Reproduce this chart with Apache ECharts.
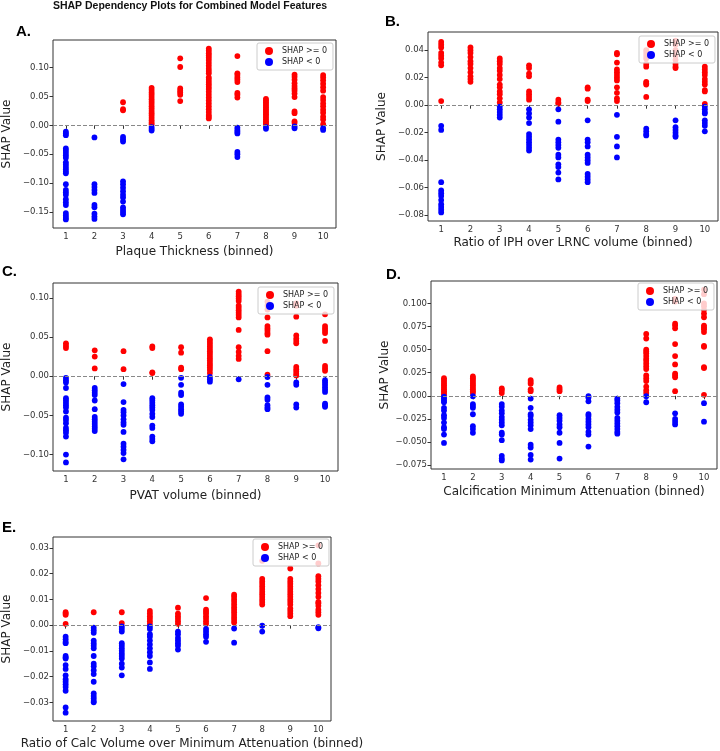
<!DOCTYPE html>
<html>
<head>
<meta charset="utf-8">
<title>SHAP Dependency Plots</title>
<script src="https://cdn.jsdelivr.net/npm/echarts@6/dist/echarts.min.js"></script>
<style>
  html, body { margin: 0; padding: 0; background: #fff; }
  #chart { width: 720px; height: 751px; }
</style>
</head>
<body>
<div id="chart"></div>
<script>
const bins = [1, 2, 3, 4, 5, 6, 7, 8, 9, 10];

// SHAP values per bin (index 0 = bin 1), split by sign
const posA = [
  [],
  [],
  [0.040, 0.028, 0.026],
  [0.065, 0.061, 0.057, 0.053, 0.049, 0.045, 0.041, 0.037, 0.033, 0.029, 0.025, 0.021, 0.017, 0.013, 0.009, 0.005, 0.002],
  [0.116, 0.101, 0.064, 0.060, 0.057, 0.053, 0.042],
  [0.133, 0.129, 0.125, 0.121, 0.117, 0.113, 0.108, 0.103, 0.098, 0.094, 0.090, 0.083, 0.079, 0.075, 0.071, 0.067, 0.063, 0.058, 0.053, 0.048, 0.043, 0.038, 0.033, 0.028, 0.023, 0.018, 0.015, 0.012],
  [0.120, 0.090, 0.087, 0.083, 0.079, 0.075, 0.056, 0.053, 0.048],
  [0.046, 0.043, 0.040, 0.037, 0.034, 0.031, 0.028, 0.025, 0.022, 0.019, 0.016, 0.013, 0.010, 0.007, 0.004, 0.002],
  [0.088, 0.084, 0.079, 0.073, 0.068, 0.064, 0.060, 0.055, 0.049, 0.024, 0.021, 0.007, 0.004],
  [0.087, 0.083, 0.078, 0.072, 0.066, 0.060, 0.049, 0.044, 0.038, 0.033, 0.027, 0.022, 0.015, 0.010, 0.002]
];
const negA = [
  [-0.011, -0.014, -0.017, -0.040, -0.044, -0.048, -0.052, -0.056, -0.064, -0.068, -0.072, -0.076, -0.080, -0.083, -0.102, -0.112, -0.116, -0.120, -0.128, -0.133, -0.138, -0.152, -0.156, -0.160, -0.163],
  [-0.021, -0.102, -0.107, -0.112, -0.117, -0.138, -0.142, -0.153, -0.158, -0.162],
  [-0.020, -0.024, -0.028, -0.097, -0.102, -0.108, -0.114, -0.120, -0.125, -0.132, -0.142, -0.146, -0.150, -0.154],
  [-0.003, -0.006, -0.009],
  [],
  [],
  [-0.004, -0.008, -0.011, -0.014, -0.046, -0.050, -0.055],
  [-0.003, -0.006],
  [-0.002, -0.005],
  [-0.005, -0.008]
];

const posB = [
  [0.046, 0.044, 0.042, 0.038, 0.036, 0.034, 0.031, 0.029, 0.003],
  [0.042, 0.040, 0.038, 0.035, 0.032, 0.030, 0.027, 0.024, 0.021, 0.019, 0.017],
  [0.034, 0.032, 0.030, 0.027, 0.025, 0.022, 0.019, 0.015, 0.013, 0.010, 0.008, 0.005, 0.002],
  [0.029, 0.027, 0.023, 0.021, 0.010, 0.008, 0.006, 0.004],
  [0.004, 0.002, 0.001],
  [0.013, 0.012, 0.004, 0.003],
  [0.038, 0.037, 0.031, 0.026, 0.024, 0.022, 0.020, 0.018, 0.013, 0.009, 0.005, 0.003],
  [0.040, 0.038, 0.036, 0.034, 0.030, 0.028, 0.017, 0.016, 0.015, 0.006],
  [0.047, 0.044, 0.040, 0.036, 0.033, 0.030, 0.028, 0.027],
  [0.028, 0.026, 0.024, 0.022, 0.019, 0.017, 0.015, 0.011, 0.010, 0.001]
];
const negB = [
  [-0.015, -0.018, -0.056, -0.062, -0.064, -0.066, -0.069, -0.072, -0.074, -0.076, -0.078],
  [],
  [-0.001, -0.003, -0.005, -0.007, -0.009],
  [-0.003, -0.006, -0.009, -0.013, -0.021, -0.023, -0.025, -0.027, -0.029, -0.031, -0.033],
  [-0.003, -0.012, -0.025, -0.027, -0.029, -0.031, -0.036, -0.038, -0.043, -0.045, -0.049, -0.054],
  [-0.011, -0.025, -0.027, -0.030, -0.036, -0.038, -0.040, -0.042, -0.050, -0.052, -0.054, -0.056],
  [-0.007, -0.023, -0.030, -0.038],
  [-0.017, -0.019, -0.021, -0.022],
  [-0.011, -0.016, -0.018, -0.020, -0.022, -0.023],
  [-0.001, -0.003, -0.005, -0.006, -0.011, -0.013, -0.015, -0.019]
];

const posC = [
  [0.042, 0.039, 0.036],
  [0.033, 0.025, 0.010],
  [0.032, 0.009],
  [0.038, 0.036, 0.005, 0.004],
  [0.037, 0.030, 0.011, 0.009],
  [0.047, 0.044, 0.041, 0.038, 0.035, 0.032, 0.029, 0.026, 0.023, 0.020, 0.017, 0.014, 0.011, 0.008, 0.004],
  [0.108, 0.105, 0.102, 0.099, 0.096, 0.090, 0.087, 0.084, 0.081, 0.078, 0.075, 0.059, 0.037, 0.031, 0.026, 0.022],
  [0.095, 0.090, 0.085, 0.075, 0.064, 0.061, 0.058, 0.055, 0.053, 0.032, 0.002],
  [0.093, 0.090, 0.076, 0.052, 0.048, 0.045, 0.042, 0.012, 0.009, 0.006, 0.003, 0.001],
  [0.079, 0.064, 0.061, 0.058, 0.055, 0.045, 0.013, 0.010, 0.007]
];
const negC = [
  [-0.002, -0.005, -0.008, -0.015, -0.028, -0.031, -0.034, -0.037, -0.040, -0.045, -0.053, -0.056, -0.060, -0.066, -0.069, -0.072, -0.077, -0.100, -0.110],
  [-0.015, -0.018, -0.021, -0.024, -0.031, -0.042, -0.052, -0.055, -0.058, -0.061, -0.064, -0.067, -0.070],
  [-0.010, -0.033, -0.043, -0.046, -0.050, -0.055, -0.059, -0.062, -0.071, -0.086, -0.090, -0.094, -0.098, -0.106],
  [-0.028, -0.031, -0.034, -0.037, -0.040, -0.043, -0.048, -0.052, -0.063, -0.066, -0.077, -0.080, -0.083],
  [-0.002, -0.011, -0.021, -0.024, -0.036, -0.039, -0.042, -0.045, -0.048],
  [-0.001, -0.004, -0.007],
  [-0.004],
  [-0.001, -0.011, -0.027, -0.030, -0.037, -0.040, -0.042],
  [-0.008, -0.011, -0.036, -0.040],
  [-0.005, -0.008, -0.011, -0.014, -0.017, -0.020, -0.035, -0.037, -0.039]
];

const posD = [
  [0.019, 0.017, 0.015, 0.013, 0.011, 0.009, 0.007, 0.005, 0.003, 0.001],
  [0.021, 0.019, 0.017, 0.015, 0.013, 0.011, 0.009, 0.007, 0.005, 0.003],
  [0.008, 0.006, 0.003],
  [0.017, 0.015, 0.013, 0.007, 0.005],
  [0.009, 0.007, 0.005],
  [],
  [],
  [0.067, 0.062, 0.050, 0.048, 0.046, 0.043, 0.040, 0.038, 0.035, 0.032, 0.029, 0.022, 0.019, 0.016, 0.010, 0.006, 0.003],
  [0.105, 0.102, 0.078, 0.076, 0.073, 0.056, 0.043, 0.034, 0.024, 0.022, 0.020, 0.005],
  [0.115, 0.110, 0.100, 0.097, 0.093, 0.089, 0.085, 0.076, 0.074, 0.072, 0.069, 0.054, 0.053, 0.031, 0.030, 0.001]
];
const negD = [
  [-0.001, -0.003, -0.005, -0.007, -0.013, -0.016, -0.021, -0.024, -0.029, -0.034, -0.036, -0.042, -0.051],
  [-0.0005, -0.009, -0.011, -0.013, -0.020, -0.033, -0.036, -0.040],
  [-0.009, -0.012, -0.016, -0.019, -0.023, -0.026, -0.029, -0.032, -0.040, -0.042, -0.048, -0.065, -0.068, -0.070],
  [-0.003, -0.013, -0.020, -0.022, -0.026, -0.029, -0.032, -0.036, -0.053, -0.056, -0.064, -0.069],
  [-0.021, -0.024, -0.027, -0.031, -0.034, -0.040, -0.051, -0.068],
  [-0.0005, -0.002, -0.006, -0.020, -0.022, -0.025, -0.028, -0.031, -0.034, -0.039, -0.042, -0.055],
  [-0.003, -0.005, -0.008, -0.012, -0.015, -0.018, -0.024, -0.027, -0.030, -0.033, -0.036, -0.039, -0.041],
  [-0.0005, -0.007],
  [-0.019, -0.025, -0.028, -0.031],
  [-0.008, -0.028]
];

const posE = [
  [0.005, 0.0045, 0.004, 0.0005],
  [0.005],
  [0.005, 0.0008],
  [0.0055, 0.0045, 0.0035, 0.0025, 0.0015, 0.0005],
  [0.0068, 0.0045, 0.0035, 0.0025, 0.0015, 0.0005],
  [0.0105, 0.006, 0.0052, 0.0045, 0.0035, 0.0025, 0.0015, 0.0005],
  [0.0118, 0.011, 0.010, 0.009, 0.008, 0.007, 0.006, 0.005, 0.004, 0.003, 0.002, 0.001],
  [0.025, 0.018, 0.017, 0.016, 0.015, 0.014, 0.013, 0.012, 0.011, 0.010, 0.009, 0.008],
  [0.022, 0.018, 0.017, 0.016, 0.015, 0.014, 0.013, 0.012, 0.011, 0.010, 0.009, 0.008, 0.0065, 0.0055, 0.0045, 0.0035],
  [0.031, 0.024, 0.019, 0.018, 0.017, 0.0155, 0.014, 0.0125, 0.011, 0.009, 0.0085, 0.0075, 0.006, 0.005, 0.004]
];
const negE = [
  [-0.0045, -0.0055, -0.0065, -0.007, -0.012, -0.0125, -0.013, -0.0155, -0.017, -0.0195, -0.021, -0.022, -0.023, -0.024, -0.0255, -0.032, -0.034],
  [-0.001, -0.002, -0.003, -0.006, -0.007, -0.008, -0.009, -0.012, -0.015, -0.016, -0.0175, -0.019, -0.022, -0.0265, -0.0275, -0.0285, -0.0295, -0.030],
  [-0.0005, -0.0015, -0.0025, -0.007, -0.008, -0.009, -0.010, -0.011, -0.012, -0.013, -0.015, -0.0165, -0.0195],
  [-0.0005, -0.0015, -0.0035, -0.0045, -0.006, -0.0075, -0.009, -0.0105, -0.012, -0.0145, -0.017],
  [-0.0025, -0.0035, -0.005, -0.006, -0.007, -0.008, -0.0095],
  [-0.0015, -0.0025, -0.0035, -0.0045, -0.0065],
  [-0.0013, -0.0068],
  [-0.0002, -0.0025],
  [],
  [-0.0008, -0.0012]
];

const ticksA = [-0.15, -0.10, -0.05, 0, 0.05, 0.10];
const ticksB = [-0.08, -0.06, -0.04, -0.02, 0, 0.02, 0.04];
const ticksC = [-0.10, -0.05, 0, 0.05, 0.10];
const ticksD = [-0.075, -0.05, -0.025, 0, 0.025, 0.05, 0.075, 0.1];
const ticksE = [-0.03, -0.02, -0.01, 0, 0.01, 0.02, 0.03];

const xNames = [
  'Plaque Thickness (binned)',
  'Ratio of IPH over LRNC volume (binned)',
  'PVAT volume (binned)',
  'Calcification Minimum Attenuation (binned)',
  'Ratio of Calc Volume over Minimum Attenuation (binned)'
];
const panelLabels = ['A.', 'B.', 'C.', 'D.', 'E.'];

const panels = [
  { pos: posA, neg: negA, ticks: ticksA, digits: 2, grid: [47, 40, 289, 188], legend: [257, 43], tag: [16, 32], xGap: 18 },
  { pos: posB, neg: negB, ticks: ticksB, digits: 2, grid: [428, 32, 290, 189], legend: [639, 36], tag: [385, 22], xGap: 16 },
  { pos: posC, neg: negC, ticks: ticksC, digits: 2, grid: [47, 283, 291, 188], legend: [258, 287], tag: [2, 272], xGap: 19 },
  { pos: posD, neg: negD, ticks: ticksD, digits: 3, grid: [431, 281, 286, 188], legend: [638, 283], tag: [386, 275], xGap: 17 },
  { pos: posE, neg: negE, ticks: ticksE, digits: 2, grid: [45, 537, 286, 184], legend: [253, 539], tag: [2, 528], xGap: 17 }
];

function toPoints(groups) {
  const pts = [];
  groups.forEach((vals, i) => vals.forEach(v => pts.push([bins[i], v])));
  return pts;
}

function fmt(v, digits) {
  const s = v.toFixed(digits);
  return s.startsWith('-') ? '\u2212' + s.slice(1) : s;
}

const grid = [], xAxis = [], yAxis = [], series = [], legend = [], graphic = [];

graphic.push({
  type: 'text', x: 190, y: 6,
  style: { text: 'SHAP Dependency Plots for Combined Model Features', fontFamily: 'Liberation Sans', fontWeight: 'bold', fontSize: 10.5, fill: '#111', align: 'center', textAlign: 'center', verticalAlign: 'middle', textVerticalAlign: 'middle' }
});

panels.forEach((p, i) => {
  const red = toPoints(p.pos);
  const blue = toPoints(p.neg);
  const all = red.concat(blue).map(d => d[1]);
  const lo = Math.min(...all), hi = Math.max(...all);
  const pad = (hi - lo) * 0.05;

  grid.push({
    left: p.grid[0], top: p.grid[1], width: p.grid[2], height: p.grid[3],
    show: true, borderColor: '#333', borderWidth: 1, backgroundColor: 'transparent'
  });

  xAxis.push({
    gridIndex: i, type: 'value', min: 0.55, max: 10.45,
    name: xNames[i], nameLocation: 'middle', nameGap: p.xGap,
    nameTextStyle: { fontSize: 12, color: '#222' },
    axisLine: { show: false },
    axisTick: { show: true, customValues: bins, length: 3.5, lineStyle: { color: '#333' } },
    axisLabel: { customValues: bins, fontSize: 8.5, color: '#333', margin: 4 },
    splitLine: { show: false }
  });

  yAxis.push({
    gridIndex: i, type: 'value', min: lo - pad, max: hi + pad,
    name: 'SHAP Value', nameLocation: 'middle', nameGap: 40,
    nameTextStyle: { fontSize: 12, color: '#222' },
    axisLine: { show: false },
    axisTick: { show: true, customValues: p.ticks, length: 3.5, lineStyle: { color: '#333' } },
    axisLabel: { customValues: p.ticks, fontSize: 8.5, color: '#333', margin: 4, formatter: v => fmt(v, p.digits) },
    splitLine: { show: false }
  });

  series.push({
    name: 'SHAP >= 0', type: 'scatter', xAxisIndex: i, yAxisIndex: i,
    symbolSize: 5.8, itemStyle: { color: '#ff0000', opacity: 1 },
    data: red,
    markLine: {
      silent: true, symbol: 'none', label: { show: false },
      lineStyle: { type: [4, 2], color: '#888', width: 1 },
      data: [{ yAxis: 0 }]
    }
  });
  series.push({
    name: 'SHAP < 0', type: 'scatter', xAxisIndex: i, yAxisIndex: i,
    symbolSize: 5.8, itemStyle: { color: '#0000ff', opacity: 1 },
    data: blue
  });

  legend.push({
    left: p.legend[0], top: p.legend[1], orient: 'vertical',
    data: ['SHAP >= 0', 'SHAP < 0'],
    itemWidth: 8, itemHeight: 8, itemGap: 3,
    padding: [4, 6, 4, 8],
    backgroundColor: 'rgba(255,255,255,0.8)', borderColor: '#ccc', borderWidth: 1, borderRadius: 2,
    textStyle: { fontSize: 8, color: '#222', padding: [0, 0, 0, 4] },
    selectedMode: false
  });

  graphic.push({
    type: 'text', x: p.tag[0], y: p.tag[1],
    style: { text: panelLabels[i], fontFamily: 'Liberation Sans', fontWeight: 'bold', fontSize: 15, fill: '#000', align: 'left', textAlign: 'left', verticalAlign: 'middle', textVerticalAlign: 'middle' }
  });
});

const chart = echarts.init(document.getElementById('chart'));
chart.setOption({
  animation: false,
  backgroundColor: '#fff',
  textStyle: { fontFamily: 'DejaVu Sans' },
  grid: grid,
  xAxis: xAxis,
  yAxis: yAxis,
  legend: legend,
  graphic: graphic,
  series: series
});
</script>
</body>
</html>
